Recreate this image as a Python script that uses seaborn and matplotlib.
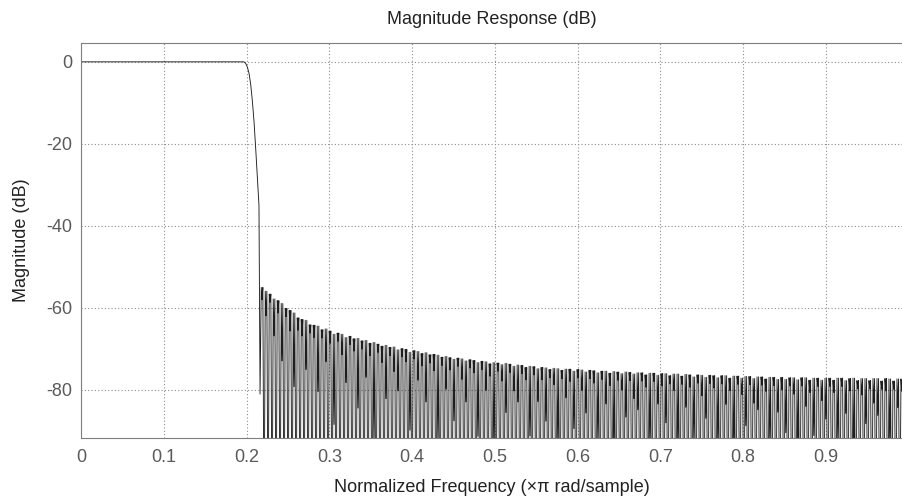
import seaborn as sns
import matplotlib.pyplot as plt
import pandas as pd
import numpy as np

# passband and transition band
trans_freq = [0.0, 0.197, 0.199, 0.201, 0.203, 0.205, 0.207, 0.209, 0.211, 0.213, 0.215, 0.2163]
trans_db = [0.0, 0.0, -0.4, -1.3, -2.8, -5.5, -9.5, -14.5, -21.0, -28.0, -35.0, -81.0]

# stopband lobes: peak level of every lobe (dB)
lobe_peak_db = [
    -55.0, -55.9, -56.6, -57.8, -58.2, -58.9, -60.1, -60.6, -61.2, -62.4,
    -62.8, -63.0, -64.1, -64.2, -64.4, -65.3, -65.1, -65.6, -66.4, -66.1,
    -66.4, -67.2, -66.9, -67.5, -67.4, -68.0, -67.9, -68.6, -68.4, -68.8,
    -69.3, -69.1, -69.6, -69.5, -70.2, -69.9, -70.1, -70.8, -70.4, -70.6,
    -71.1, -70.9, -71.4, -71.3, -71.5, -72.0, -71.8, -72.1, -72.5, -72.2,
    -72.4, -72.9, -72.6, -72.8, -73.3, -73.0, -73.1, -73.6, -73.3, -73.4,
    -73.8, -73.5, -73.7, -74.2, -73.9, -74.0, -74.5, -74.2, -74.3, -74.8,
    -74.5, -74.6, -75.0, -74.7, -74.8, -75.2, -74.9, -74.9, -75.4, -75.0,
    -75.1, -75.6, -75.2, -75.3, -75.8, -75.4, -75.4, -75.9, -75.5, -75.6,
    -76.0, -75.6, -75.7, -76.1, -75.8, -75.8, -76.3, -75.9, -75.9, -76.4,
    -76.0, -76.0, -76.5, -76.1, -76.1, -76.6, -76.2, -76.3, -76.8, -76.3,
    -76.4, -76.9, -76.4, -76.5, -77.0, -76.5, -76.5, -77.1, -76.6, -76.6,
    -77.1, -76.7, -76.7, -77.2, -76.8, -76.8, -77.3, -76.9, -76.9, -77.4,
    -76.9, -77.4, -77.0, -77.0, -77.5, -77.0, -77.0, -77.6, -77.1, -77.1,
    -77.6, -77.1, -77.1, -77.6, -77.1, -77.1, -77.7, -77.2, -77.1, -77.7,
    -77.2, -77.2, -77.7, -77.2, -77.2, -77.8, -77.2, -77.3, -77.8, -77.3,
    -77.3,
]

# depth of the small notch inside each lobe (dB below the lobe peak)
dip_depth_db = [
    3, 6, 2, 9, 3, 14, 2, 5, 18, 3,
    4, 12, 2, 3, 16, 2, 8, 3, 22, 2,
    5, 11, 2, 3, 17, 2, 9, 3, 24, 2,
    4, 13, 2, 6, 10, 2, 3, 19, 2, 7,
    3, 12, 2, 4, 21, 2, 8, 3, 15, 2,
    5, 10, 2, 3, 18, 2, 7, 3, 23, 2,
    4, 12, 2, 6, 9, 2, 3, 17, 2, 8,
    3, 13, 2, 4, 20, 2, 7, 3, 14, 2,
    5, 10, 2, 3, 16, 2, 8, 3, 22, 2,
    4, 11, 2, 6, 9, 2, 3, 18, 2, 7,
    3, 12, 2, 4, 19, 2, 8, 3, 15, 2,
    5, 10, 2, 3, 17, 2, 7, 3, 21, 2,
    4, 12, 2, 6, 8, 2, 3, 16, 2, 8,
    3, 13, 2, 4, 20, 2, 7, 3, 14, 2,
    5, 10, 2, 3, 15, 2, 8, 3, 22, 2,
    4, 11, 2, 6, 9, 2, 3, 17, 2, 7,
    3,
]

lobe_start = 0.2163
lobe_width = 0.00483
null_db = -120.0

xticks = [0, 0.1, 0.2, 0.3, 0.4, 0.5, 0.6, 0.7, 0.8, 0.9]
yticks = [0, -20, -40, -60, -80]

# build the curve
freq = list(trans_freq)
mag = list(trans_db)
for i, pk in enumerate(lobe_peak_db):
    s = lobe_start + i * lobe_width
    freq += [s + 0.3 * lobe_width, s + 0.5 * lobe_width, s + 0.7 * lobe_width, s + lobe_width]
    mag += [pk, pk - dip_depth_db[i], pk, null_db]
df = pd.DataFrame({"freq": freq, "mag": mag})

sns.set_style("white")
plt.rcParams["font.family"] = ["Liberation Sans", "DejaVu Sans"]
plt.rcParams["axes.unicode_minus"] = False

fig = plt.figure(figsize=(9.03, 4.98), dpi=100)
ax = fig.add_axes([0.0897, 0.1205, 0.9103, 0.7932])

sns.lineplot(data=df, x="freq", y="mag", sort=False, estimator=None,
             color="#1e1e1e", linewidth=0.65, ax=ax)

ax.set_xlim(0, 0.993)
ax.set_ylim(-91.7, 4.6)
ax.set_xticks(xticks)
ax.set_xticklabels(["0"] + [f"{t:g}" for t in xticks[1:]])
ax.set_yticks(yticks)
ax.grid(True, color="#8c8c8c", linestyle=(0, (1, 2)), linewidth=0.8)
ax.tick_params(axis="both", direction="in", length=6, width=0.8, color="#a0a0a0",
               labelsize=13, labelcolor="#5a5a5a", pad=6)
ax.tick_params(axis="x", pad=8)
for sp in ax.spines.values():
    sp.set_color("#7f7f7f")
    sp.set_linewidth(0.8)

ax.set_title("Magnitude Response (dB)", fontsize=13, color="#222222", pad=14)
ax.set_xlabel("Normalized Frequency (\u00d7\u03c0 rad/sample)", fontsize=13, color="#222222", labelpad=9)
ax.set_ylabel("Magnitude (dB)", fontsize=13, color="#222222", labelpad=12)

fig.savefig("out.png", dpi=100)
